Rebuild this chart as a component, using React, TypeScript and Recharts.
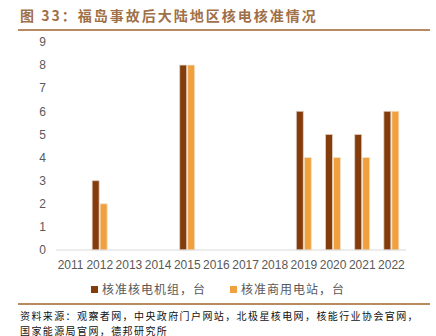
import React from 'react';
import { BarChart, Bar, XAxis, YAxis } from 'recharts';

const years = ['2011', '2012', '2013', '2014', '2015', '2016', '2017', '2018', '2019', '2020', '2021', '2022'];
const units = [0, 3, 0, 0, 8, 0, 0, 0, 6, 5, 5, 6];
const plants = [0, 2, 0, 0, 8, 0, 0, 0, 4, 4, 4, 6];
const yTicks = [0, 1, 2, 3, 4, 5, 6, 7, 8, 9];

const UNIT_NAME = '核准核电机组，台';
const PLANT_NAME = '核准商用电站，台';
const DARK = '#843C0C';
const ORANGE = '#F0A03C';
const RULE = '#B88A62';
const FONT = '"Noto Sans CJK SC", "Noto Sans", sans-serif';
const AXIS_FONT = '"Liberation Sans", Arial, sans-serif';

const data = years.map((year, i) => ({ year, units: units[i], plants: plants[i] }));

const legendItems = [
  { name: UNIT_NAME, color: DARK },
  { name: PLANT_NAME, color: ORANGE },
];

const sourceLines = [
  '资料来源：观察者网，中央政府门户网站，北极星核电网，核能行业协会官网，',
  '国家能源局官网，德邦研究所',
];

const App: React.FC = () => {
  return (
    <div style={{ position: 'fixed', left: 0, top: 0, width: 436, height: 336, background: '#fff', overflow: 'hidden' }}>
      <div style={{ position: 'absolute', left: 20, top: 5, fontFamily: FONT, fontSize: 14, fontWeight: 700, color: '#A07048', letterSpacing: 2, whiteSpace: 'nowrap' }}>
        图 33：福岛事故后大陆地区核电核准情况
      </div>
      <div style={{ position: 'absolute', left: 18, top: 29, width: 412, height: 2, background: RULE }} />
      <div style={{ position: 'absolute', left: 0, top: 0 }}>
        <BarChart
          width={436}
          height={300}
          data={data}
          margin={{ top: 42, right: 30, bottom: 20, left: 26 }}
          barSize={7}
          barGap={1}
        >
          <XAxis
            dataKey="year"
            tickLine={false}
            axisLine={{ stroke: '#D9D9D9' }}
            tick={{ fill: '#595959', fontSize: 12, fontFamily: AXIS_FONT }}
            tickMargin={4}
            interval={0}
          />
          <YAxis
            width={30}
            domain={[0, 9]}
            ticks={yTicks}
            interval={0}
            tickLine={false}
            axisLine={false}
            tick={{ fill: '#595959', fontSize: 12, fontFamily: AXIS_FONT }}
            tickMargin={4}
          />
          <Bar dataKey="units" name={UNIT_NAME} fill={DARK} stroke="#E6D6C8" strokeWidth={0.75} isAnimationActive={false} />
          <Bar dataKey="plants" name={PLANT_NAME} fill={ORANGE} stroke="#F2E2D0" strokeWidth={0.75} isAnimationActive={false} />
        </BarChart>
      </div>
      <div style={{ position: 'absolute', left: 0, top: 280, width: 436, display: 'flex', justifyContent: 'center', gap: 24, fontFamily: FONT, fontSize: 12, color: '#595959', letterSpacing: 1, lineHeight: '18px' }}>
        {legendItems.map((item) => (
          <div key={item.name} style={{ display: 'flex', alignItems: 'center' }}>
            <span style={{ width: 7, height: 7, background: item.color, display: 'inline-block', marginRight: 4 }} />
            <span>{item.name}</span>
          </div>
        ))}
      </div>
      <div style={{ position: 'absolute', left: 18, top: 303, width: 412, height: 2, background: RULE }} />
      {sourceLines.map((line, i) => (
        <div
          key={i}
          style={{ position: 'absolute', left: 20, top: 309 + i * 14.5, fontFamily: FONT, fontSize: 10, letterSpacing: 1.4, color: '#111', lineHeight: '14px', whiteSpace: 'nowrap' }}
        >
          {line}
        </div>
      ))}
    </div>
  );
};

export default App;
